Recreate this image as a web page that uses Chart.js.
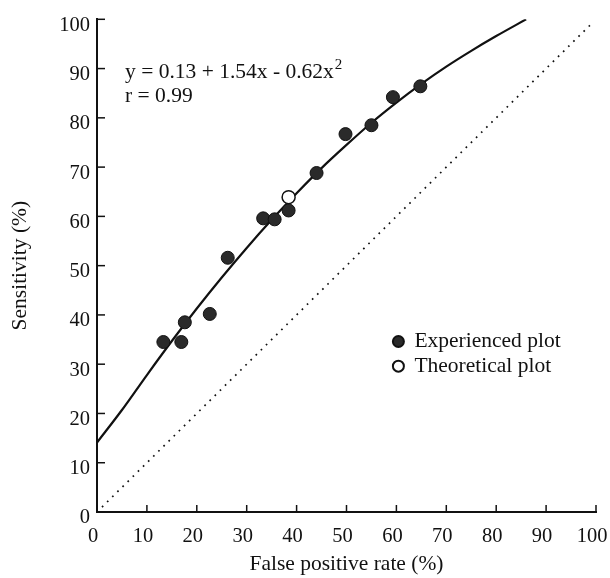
<!DOCTYPE html>
<html>
<head>
<meta charset="utf-8">
<script src="https://cdn.jsdelivr.net/npm/chart.js@4/dist/chart.umd.min.js"></script>
<style>
  html, body { margin: 0; padding: 0; background: #fff; }
  #wrap { width: 610px; height: 578px; position: relative; }
</style>
</head>
<body>
<div id="wrap"><canvas id="roc"></canvas></div>
<script>
// points (false positive rate %, sensitivity %)
const fprExp  = [13.3, 16.9, 17.6, 22.6, 26.2, 33.3, 35.6, 38.4, 44.0, 49.8, 55.0, 59.3, 64.8];
const sensExp = [34.5, 34.5, 38.5, 40.2, 51.6, 59.6, 59.4, 61.2, 68.8, 76.7, 78.5, 84.2, 86.4];
const fprTheo  = [38.4];
const sensTheo = [63.9];

// fitted curve as drawn in the figure
const curveX = [0, 5, 10, 15, 20, 25, 30, 35, 40, 45, 50, 55, 60, 65, 70, 75, 80, 86];
const curveY = [14.1, 20.7, 27.8, 34.7, 41.3, 47.6, 53.6, 59.3, 64.7, 69.8, 74.5, 79.0, 83.1, 86.9, 90.4, 93.6, 96.6, 100];

// chance line
const diagX = [1, 99];
const diagY = [1, 99];

const xTicks = [0, 10, 20, 30, 40, 50, 60, 70, 80, 90, 100];
const yTicks = [0, 10, 20, 30, 40, 50, 60, 70, 80, 90, 100];

const serif = "'Liberation Serif', 'DejaVu Serif', serif";
const ink = '#111';

const pts = (xs, ys) => xs.map((x, i) => ({x: x, y: ys[i]}));

// inward tick marks + equation + legend inside the plot
const extras = {
    id: 'extras',
    afterDraw(chart) {
        const ctx = chart.ctx;
        const xs = chart.scales.x, ys = chart.scales.y;
        const area = chart.chartArea;
        ctx.save();
        ctx.strokeStyle = ink;
        ctx.lineWidth = 1.5;
        xTicks.forEach(v => {
            const px = xs.getPixelForValue(v);
            ctx.beginPath(); ctx.moveTo(px, area.bottom); ctx.lineTo(px, area.bottom - 7); ctx.stroke();
        });
        yTicks.forEach(v => {
            const py = ys.getPixelForValue(v);
            ctx.beginPath(); ctx.moveTo(area.left, py); ctx.lineTo(area.left + 8, py); ctx.stroke();
        });

        // regression text
        ctx.fillStyle = ink;
        ctx.textBaseline = 'middle';
        ctx.font = '21.5px ' + serif;
        const eq = 'y = 0.13 + 1.54x - 0.62x';
        const ex = area.left + 28, ey = ys.getPixelForValue(89.3);
        ctx.fillText(eq, ex, ey);
        const w = ctx.measureText(eq).width;
        ctx.font = '15px ' + serif;
        ctx.fillText('2', ex + w + 1, ey - 7);
        ctx.font = '21.5px ' + serif;
        ctx.fillText('r = 0.99', ex, ys.getPixelForValue(84.3));

        // legend
        const lx = xs.getPixelForValue(60.4);
        const rows = [chart.data.datasets[0], chart.data.datasets[1]];
        const rowY = [34.6, 29.6];
        rows.forEach((ds, i) => {
            const py = ys.getPixelForValue(rowY[i]);
            ctx.beginPath();
            ctx.arc(lx, py, 5.5, 0, Math.PI * 2);
            ctx.fillStyle = ds.backgroundColor;
            ctx.fill();
            ctx.lineWidth = 2;
            ctx.strokeStyle = ink;
            ctx.stroke();
            ctx.fillStyle = ink;
            ctx.font = '21.5px ' + serif;
            ctx.fillText(ds.label, lx + 16, py);
        });
        ctx.restore();
    }
};

new Chart(document.getElementById('roc'), {
    type: 'scatter',
    data: {
        datasets: [
            {
                label: 'Experienced plot',
                data: pts(fprExp, sensExp),
                backgroundColor: '#2a2a2a',
                borderColor: '#111',
                borderWidth: 1,
                pointRadius: 6.5,
                order: 1
            },
            {
                label: 'Theoretical plot',
                data: pts(fprTheo, sensTheo),
                backgroundColor: '#ffffff',
                borderColor: '#111',
                borderWidth: 1.5,
                pointRadius: 6.5,
                order: 0
            },
            {
                label: 'fit',
                type: 'line',
                data: pts(curveX, curveY),
                borderColor: ink,
                borderWidth: 2.2,
                pointRadius: 0,
                cubicInterpolationMode: 'monotone',
                fill: false,
                order: 2
            },
            {
                label: 'diagonal',
                type: 'line',
                data: pts(diagX, diagY),
                borderColor: ink,
                borderWidth: 1.7,
                borderDash: [1.7, 5.5],
                pointRadius: 0,
                fill: false,
                order: 3
            }
        ]
    },
    options: {
        responsive: true,
        maintainAspectRatio: false,
        animation: false,
        layout: { padding: { top: 15, right: 0, left: 0, bottom: 0 } },
        plugins: {
            legend: { display: false },
            tooltip: { enabled: false }
        },
        scales: {
            x: {
                type: 'linear',
                min: 0, max: 100,
                afterFit: s => { s.height = 66; s.paddingRight = 14; s.paddingLeft = 0; },
                afterBuildTicks: s => { s.ticks = xTicks.map(v => ({value: v})); },
                border: { display: true, color: ink, width: 2 },
                grid: { display: false, drawTicks: false },
                ticks: {
                    color: ink,
                    font: { family: serif, size: 20.5 },
                    padding: 12,
                    labelOffset: -4,
                    maxRotation: 0,
                    autoSkip: false
                },
                title: {
                    display: true,
                    text: 'False positive rate (%)',
                    color: ink,
                    font: { family: serif, size: 21.5 },
                    padding: { top: 0, bottom: 1 }
                }
            },
            y: {
                type: 'linear',
                min: 0, max: 100,
                afterFit: s => { s.width = 97; },
                afterBuildTicks: s => { s.ticks = yTicks.map(v => ({value: v})); },
                border: { display: true, color: ink, width: 2 },
                grid: { display: false, drawTicks: false },
                ticks: {
                    color: ink,
                    font: { family: serif, size: 20.5 },
                    padding: 7,
                    labelOffset: 6,
                    autoSkip: false
                },
                title: {
                    display: true,
                    text: 'Sensitivity (%)',
                    color: ink,
                    font: { family: serif, size: 21.5 },
                    padding: { top: 7, bottom: 0 }
                }
            }
        }
    },
    plugins: [extras]
});
</script>
</body>
</html>
